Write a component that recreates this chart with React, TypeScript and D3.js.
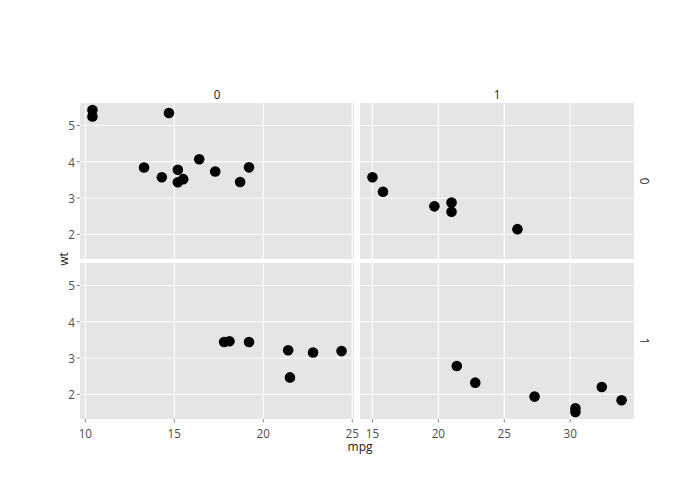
import React from "react";
import * as d3 from "d3";

const mpg = [21.0,21.0,22.8,21.4,18.7,18.1,14.3,24.4,22.8,19.2,17.8,16.4,17.3,15.2,10.4,10.4,14.7,32.4,30.4,33.9,21.5,15.5,15.2,13.3,19.2,27.3,26.0,30.4,15.8,19.7,15.0,21.4];
const wt = [2.620,2.875,2.320,3.215,3.440,3.460,3.570,3.190,3.150,3.440,3.440,4.070,3.730,3.780,5.250,5.424,5.345,2.200,1.615,1.835,2.465,3.520,3.435,3.840,3.845,1.935,2.140,1.513,3.170,2.770,3.570,2.780];
const vs = [0,0,1,1,0,1,0,1,1,1,1,0,0,0,0,0,0,1,1,1,1,0,0,0,0,1,0,1,0,0,0,1];
const am = [1,1,1,0,0,0,0,0,0,0,0,0,0,0,0,0,0,1,1,1,0,0,0,0,0,1,1,1,1,1,1,1];
const colLevels = ["0", "1"];
const rowLevels = ["0", "1"];
const yTicks = [2, 3, 4, 5];
const xTicksCol = [[10, 15, 20, 25], [15, 20, 25, 30]];

export default function App() {
  const W = 700, H = 500;
  const colX: [number, number][] = [[80, 354], [360, 634]];
  const rowY: [number, number][] = [[103, 259], [263, 419]];

  const yExt = d3.extent(wt) as [number, number];
  const yPad = (yExt[1] - yExt[0]) * 0.05;
  const xScales = colLevels.map((c, ci) => {
    const vals = mpg.filter((_, i) => am[i] === ci);
    const e = d3.extent(vals) as [number, number];
    const p = (e[1] - e[0]) * 0.05;
    return d3.scaleLinear().domain([e[0] - p, e[1] + p]).range(colX[ci]);
  });
  const yScales = rowLevels.map((r, ri) =>
    d3.scaleLinear().domain([yExt[0] - yPad, yExt[1] + yPad]).range([rowY[ri][1], rowY[ri][0]])
  );
  const font = "'Open Sans', 'Noto Sans', sans-serif";
  const tickColor = "#4d4d4d";

  return (
    <svg width={W} height={H} style={{ display: "block", position: "absolute", left: 0, top: 0 }} fontFamily={font}>
      <rect width={W} height={H} fill="#fff" />
      {rowLevels.map((r, ri) =>
        colLevels.map((c, ci) => {
          const xs = xScales[ci], ys = yScales[ri];
          const [x0, x1] = colX[ci];
          const [y0, y1] = rowY[ri];
          return (
            <g key={`${ri}-${ci}`}>
              <rect x={x0} y={y0} width={x1 - x0} height={y1 - y0} fill="#e5e5e5" />
              {xTicksCol[ci].map((t) => (
                <line key={`gx${t}`} x1={xs(t)} x2={xs(t)} y1={y0} y2={y1} stroke="#fff" strokeWidth={1.1} />
              ))}
              {yTicks.map((t) => (
                <line key={`gy${t}`} x1={x0} x2={x1} y1={ys(t)} y2={ys(t)} stroke="#fff" strokeWidth={1.1} />
              ))}
              {mpg.map((m, i) =>
                am[i] === ci && vs[i] === ri ? (
                  <circle key={i} cx={xs(m)} cy={ys(wt[i])} r={5.3} fill="#000" />
                ) : null
              )}
            </g>
          );
        })
      )}
      {colLevels.map((c, ci) => (
        <text key={`cs${c}`} x={(colX[ci][0] + colX[ci][1]) / 2} y={99} textAnchor="middle" fontSize={11.7} fill="#1a1a1a">{c}</text>
      ))}
      {rowLevels.map((r, ri) => {
        const cy = (rowY[ri][0] + rowY[ri][1]) / 2;
        return (
          <text key={`rs${r}`} x={645} y={cy} textAnchor="middle" dominantBaseline="central" fontSize={11.7} fill="#1a1a1a" transform={`rotate(90 645 ${cy})`}>{r}</text>
        );
      })}
      {rowLevels.map((r, ri) => (
        <g key={`ya${ri}`}>
          {yTicks.map((t) => (
            <g key={t}>
              <line x1={76.5} x2={80} y1={yScales[ri](t)} y2={yScales[ri](t)} stroke="#333" strokeOpacity={0.6} strokeWidth={1} />
              <text x={75} y={yScales[ri](t)} textAnchor="end" dominantBaseline="central" fontSize={11.7} fill={tickColor}>{t}</text>
            </g>
          ))}
        </g>
      ))}
      {colLevels.map((c, ci) => (
        <g key={`xa${ci}`}>
          {xTicksCol[ci].map((t) => (
            <g key={t}>
              <line x1={xScales[ci](t)} x2={xScales[ci](t)} y1={419} y2={422.5} stroke="#333" strokeOpacity={0.6} strokeWidth={1} />
              <text x={xScales[ci](t)} y={437.5} textAnchor="middle" fontSize={11.7} fill={tickColor}>{t}</text>
            </g>
          ))}
        </g>
      ))}
      <text x={360} y={451} textAnchor="middle" fontSize={12} fill="#1a1a1a">mpg</text>
      <text x={63} y={259} textAnchor="middle" dominantBaseline="central" fontSize={12} fill="#1a1a1a" transform="rotate(-90 63 259)">wt</text>
    </svg>
  );
}
